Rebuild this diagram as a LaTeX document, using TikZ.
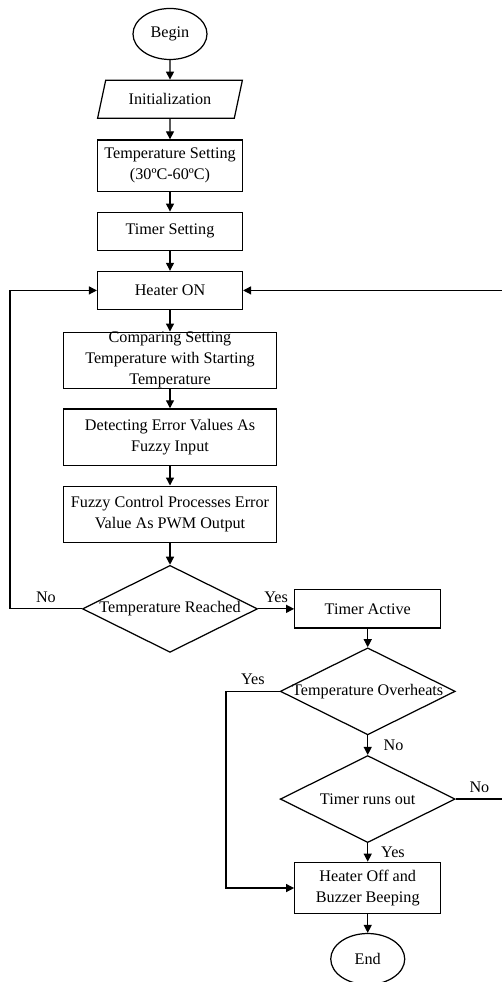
\documentclass[tikz,border=0pt]{standalone}
\usepackage{fontspec}
\setmainfont{Liberation Serif}
\usetikzlibrary{arrows.meta,positioning,shapes.geometric}

\begin{document}
\begin{tikzpicture}[font=\fontsize{9.2}{11.9}\selectfont,line width=0.7pt,box/.style={draw,minimum width=2.9cm,minimum height=0.76cm,align=center,inner ysep=1pt},widebox/.style={box,minimum width=4.26cm,minimum height=1.12cm},terminal/.style={draw,ellipse,minimum width=1.48cm,minimum height=1.02cm,inner sep=0pt},io/.style={draw,trapezium,trapezium left angle=70,trapezium right angle=110,trapezium stretches=true,minimum width=2.9cm,minimum height=0.76cm,inner sep=1pt},decision/.style={draw,diamond,aspect=2,inner sep=-2pt,minimum width=3.5cm,minimum height=1.74cm},arrow/.style={-{Triangle[length=1.6mm,width=1.6mm]}}]
 \useasboundingbox (0,0) rectangle (10.02,-19.64);
 \node[terminal] (begin) at (3.4,-0.68) {Begin}; \node[io,below=.39cm of begin] (init) {Initialization};
 \node[box,minimum height=1.03cm,below=.41cm of init] (temp) {Temperature Setting\\(30ºC-60ºC)};
 \node[box,below=.39cm of temp] (timer) {Timer Setting}; \node[box,below=.4cm of timer] (heat) {Heater ON};
 \node[widebox,inner ysep=-2pt,below=.43cm of heat] (comp) {Comparing Setting\\Temperature with Starting\\Temperature};
 \node[widebox,minimum height=1.13cm,below=.39cm of comp] (detect) {Detecting Error Values As\\Fuzzy Input};
 \node[widebox,below=.39cm of detect] (fuzzy) {Fuzzy Control Processes Error\\Value As PWM Output};
 \node[decision,below=.44cm of fuzzy] (reach) {Temperature Reached};
 \node[box,minimum width=2.92cm,minimum height=0.77cm,right=.72cm of reach] (act) {Timer Active};
 \node[decision,below=.37cm of act] (over) {Temperature Overheats};
 \node[decision,below=.39cm of over] (tout) {Timer runs out};
 \node[box,minimum width=2.92cm,minimum height=1.03cm,below=.37cm of tout] (off) {Heater Off and\\Buzzer Beeping};
 \node[terminal,below=.37cm of off] (end) {End};
 \coordinate (lx) at (0.2,0); \coordinate (ox) at (4.52,0); \coordinate (rx) at (10.06,0);
 \draw[arrow] (begin)--(init); \draw[arrow] (init)--(temp); \draw[arrow] (temp)--(timer); \draw[arrow] (timer)--(heat);
 \draw[arrow] (heat)--(comp); \draw[arrow] (comp)--(detect); \draw[arrow] (detect)--(fuzzy); \draw[arrow] (fuzzy)--(reach);
 \draw[arrow] (reach)--node[above]{Yes}(act); \draw[arrow] (act)--(over);
 \draw[arrow] (over)--node[right=1.9mm]{No}(tout); \draw[arrow] (tout)--node[right=1.4mm]{Yes}(off); \draw[arrow] (off)--(end);
 \draw[arrow] (reach.west)--node[above]{No}(reach.west-|lx)|-(heat.west);
 \draw[arrow] (over.west)--node[above]{Yes}(over.west-|ox)|-(off.west);
 \draw[arrow] (tout.east)--node[above]{No}(tout.east-|rx)|-(heat.east);
\end{tikzpicture}
\end{document}
